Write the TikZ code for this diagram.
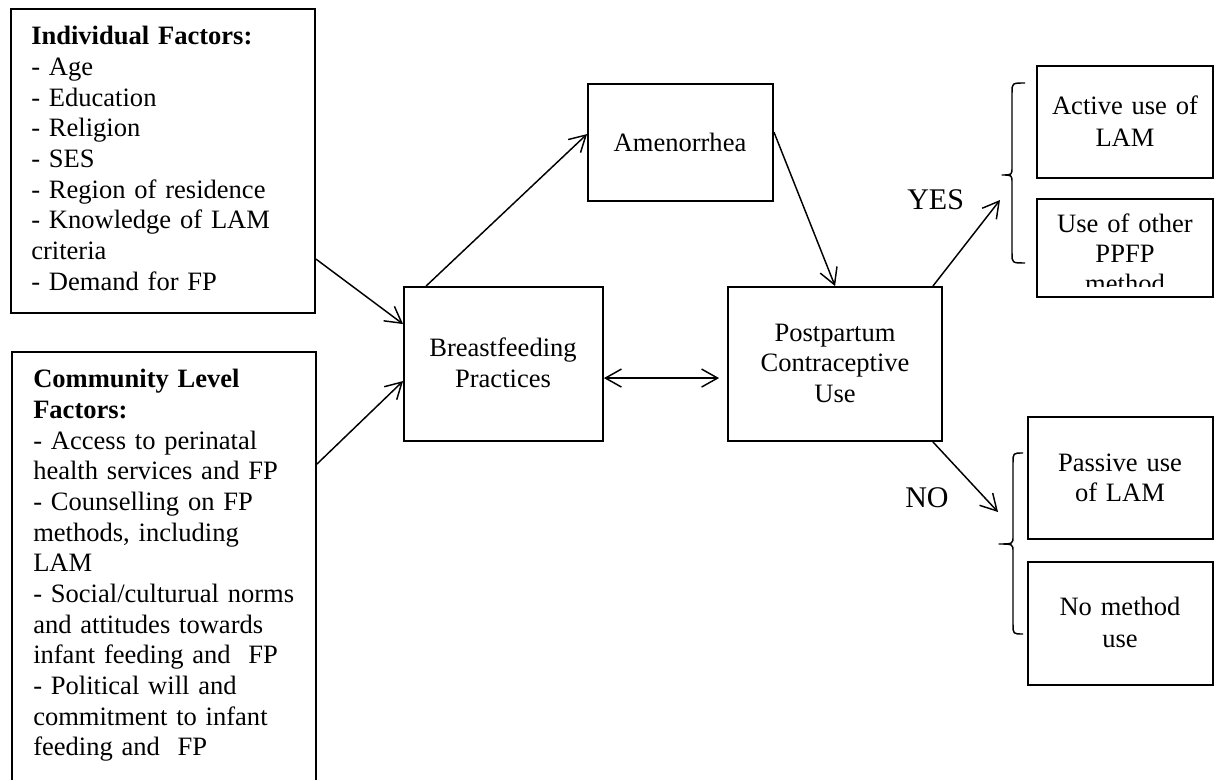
\documentclass[tikz,border=0pt]{standalone}
\usepackage{fontspec}
\setmainfont{Liberation Serif}
\usetikzlibrary{arrows.meta,calc,fit}
\begin{document}
\begin{tikzpicture}[x=0.75pt,y=-0.75pt,
  box/.style={draw, line width=1.4pt, inner sep=0pt},
  txt/.style={font=\fontsize{19.9pt}{23pt}\selectfont, inner sep=0pt, anchor=base, align=center, text width=#1},
  ltxt/.style={font=\fontsize{19.9pt}{23pt}\selectfont, inner sep=0pt, anchor=base west, align=left, text width=230pt},
  lbl/.style={font=\fontsize{22.5pt}{26pt}\selectfont, inner sep=0pt, anchor=base west},
  arr/.style={line width=1.1pt, -{Straight Barb[length=12pt,width=13.5pt,line width=1.1pt]}},
  darr/.style={line width=1.1pt, {Straight Barb[length=12pt,width=13.5pt,line width=1.1pt]}-{Straight Barb[length=12pt,width=13.5pt,line width=1.1pt]}},
  bracestyle/.style={line width=1.1pt, line join=round}
]
\useasboundingbox (0,0) rectangle (1214,780);
\clip (0,0) rectangle (1214,780);

% boxes
\node[box, fit={(11,9) (315,313)}] (ind) {};
\node[box, fit={(12,352) (316,800)}] (com) {};
\node[box, fit={(404,287) (603,441)}] (bf) {};
\node[box, fit={(588,84) (773,201)}] (amen) {};
\node[box, fit={(728,287) (942,441)}] (pp) {};
\node[box, fit={(1037,66) (1213,178)}] (act) {};
\node[box, fit={(1037,199) (1213,297)}] (oth) {};
\node[box, fit={(1028,417) (1213,539)}] (pas) {};
\node[box, fit={(1028,562) (1213,685)}] (nom) {};

% texts
\node[ltxt] (indt) at (31,45) {\textbf{Individual Factors:}\\
- Age\\
- Education\\
- Religion\\
- SES\\
- Region of residence\\
- Knowledge of LAM\\
criteria\\
- Demand for FP};

\node[ltxt] (comt) at (33,388) {\textbf{Community Level}\\
\textbf{Factors:}\\
- Access to perinatal\\
health services and FP\\
- Counselling on FP\\
methods, including\\
LAM\\
- Social/culturual norms\\
and attitudes towards\\
infant feeding and\ \ FP\\
- Political will and\\
commitment to infant\\
feeding and\ \ FP};

\node[txt=140pt] (bft) at (503,357) {Breastfeeding\\[-0.3pt]Practices};
\node[txt=140pt] (amett) at (680,152) {Amenorrhea};
\node[txt=150pt] (ppt) at (835,342) {Postpartum\\[-0.5pt]Contraceptive\\[0pt]Use};
\node[txt=130pt] (actt) at (1125,115) {Active use of\\[1pt]LAM};
\begin{scope}
\clip (1037,199) rectangle (1213,287);
\node[txt=130pt] (otht) at (1125,233) {Use of other\\[-0.5pt]PPFP\\[-0.5pt]method};
\end{scope}
\node[txt=130pt] (past) at (1120,472) {Passive use\\[-0.5pt]of LAM};
\node[txt=130pt] (nomt) at (1120,615) {No method\\[1pt]use};

\node[lbl] (yes) at (907,210) {YES};
\node[lbl] (no) at (905,508) {NO};

% brace tips
\coordinate (yestip) at (1000,200);
\coordinate (notip) at (998,512);

% braces
\draw[bracestyle] (1025,83) .. controls (1012,83) .. (1012,93) -- (1012,167)
  .. controls (1012,175) .. (1002,175) .. controls (1012,175) .. (1012,183)
  -- (1012,253) .. controls (1012,263) .. (1025,263);
\draw[bracestyle] (1023,453) .. controls (1013,453) .. (1013,463) -- (1013,536)
  .. controls (1013,544) .. (999,544) .. controls (1013,544) .. (1013,552)
  -- (1013,624) .. controls (1013,634) .. (1023,634);

% connectors
\draw[arr] ($(ind.north east)+(0,251)$) -- ($(bf.north west)+(0,38)$);
\draw[arr] ($(com.north east)+(0,113)$) -- ($(bf.north west)+(0,95)$);
\draw[arr] ($(bf.north west)+(23,0)$) -- ($(amen.north west)+(0,51)$);
\draw[arr] ($(amen.north east)+(0,49)$) -- ($(pp.north west)+(108,0)$);
\draw[darr] ($(bf.north east)+(0,92)$) -- ($(pp.north west)+(-8,92)$);
\draw[arr] ($(pp.north east)+(-10,0)$) -- (yestip);
\draw[arr] ($(pp.south east)+(-10,0)$) -- (notip);
\end{tikzpicture}
\end{document}
